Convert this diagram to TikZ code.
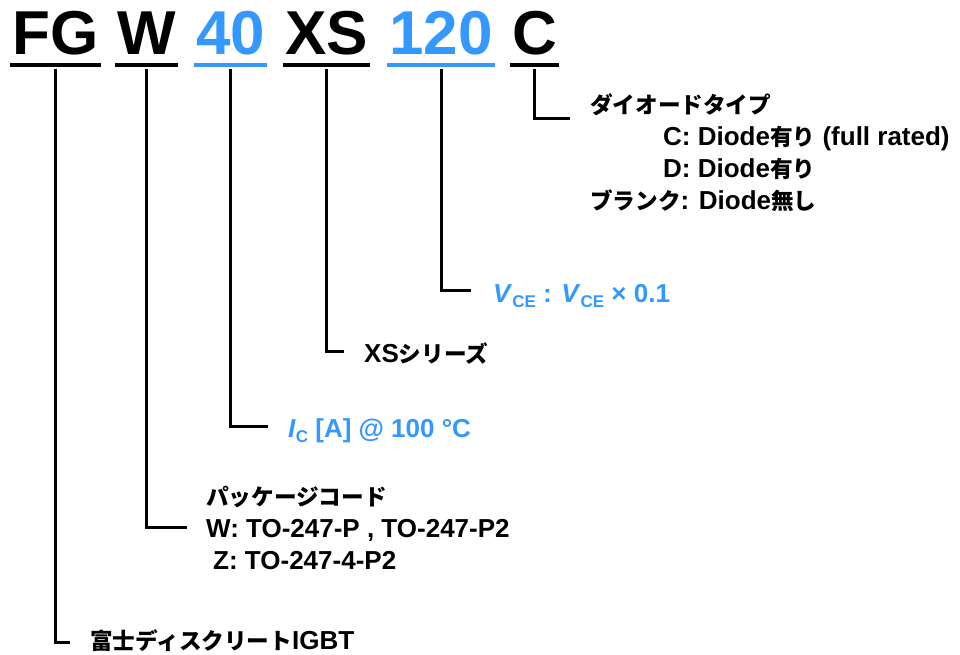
\documentclass[tikz,border=0pt]{standalone}
\usepackage{fontspec}
\setmainfont{Liberation Sans}
\newfontfamily\jpfont{Noto Sans CJK JP}[Scale=0.87]
\usetikzlibrary{positioning}
\definecolor{fgblue}{RGB}{51,153,255}
\newcommand{\jp}[1]{{\jpfont #1}}
\newcommand{\subtxt}[1]{\raisebox{-5pt}{\fontsize{17}{17}\selectfont #1}}

\begin{document}
\begin{tikzpicture}[x=1pt, y=-1pt,
    every node/.style={font=\bfseries, inner sep=0pt},
    word/.style={font=\fontsize{62}{62}\selectfont\bfseries, anchor=base, inner xsep=2pt, inner ysep=0pt},
    uline/.style={line width=3.5pt},
    conn/.style={line width=3pt},
    lbl/.style={font=\fontsize{26}{32}\selectfont\bfseries, anchor=base west, align=left}
  ]
  \useasboundingbox (0,0) rectangle (960,655);

  % 型式の各部と下線
  \foreach \nm/\xc/\txt/\col in {fg/55.5/FG/black, w/146.5/W/black, n40/230.5/40/fgblue,
      xs/326.5/XS/black, n120/441/120/fgblue, c/534.5/C/black} {
    \node[word, text=\col] (\nm) at (\xc,55) {\txt};
    \draw[uline, \col] ([yshift=-10pt]\nm.base west) -- ([yshift=-10pt]\nm.base east);
  }

  % 説明 (複数行は最終行のベースライン)
  \node[lbl] (lc) at (590,209) {\jp{ダイオードタイプ}\\
    \hspace*{73pt}C: Diode\jp{有り} (full rated)\\
    \hspace*{73pt}D: Diode\jp{有り}\\
    \jp{ブランク}: Diode\jp{無し}};
  \node[lbl, text=fgblue] (ln120) at (493,302) {\textit{V}\subtxt{CE} : \textit{V}\subtxt{CE} × 0.1};
  \node[lbl] (lxs) at (364,362) {XS\jp{シリーズ}};
  \node[lbl, text=fgblue] (ln40) at (288,437) {\textit{I}\subtxt{C} [A] @ 100 °C};
  \node[lbl] (lw) at (206,569) {\jp{パッケージコード}\\
    W: TO-247-P , TO-247-P2\\
    \hspace*{7pt}Z: TO-247-4-P2};
  \node[lbl] (lfg) at (90,649) {\jp{富士ディスクリート}IGBT};

  % 引出線の終点
  \coordinate (efg) at (70,642);
  \coordinate (ew) at (187,527);
  \coordinate (en40) at (268,426);
  \coordinate (exs) at (344,351);
  \coordinate (en120) at (471,290);
  \coordinate (ec) at (570,119);

  \foreach \nm in {fg,w,n40,xs,n120,c}
    \draw[conn] ([yshift=-14pt]\nm.base) |- (e\nm);
\end{tikzpicture}
\end{document}
